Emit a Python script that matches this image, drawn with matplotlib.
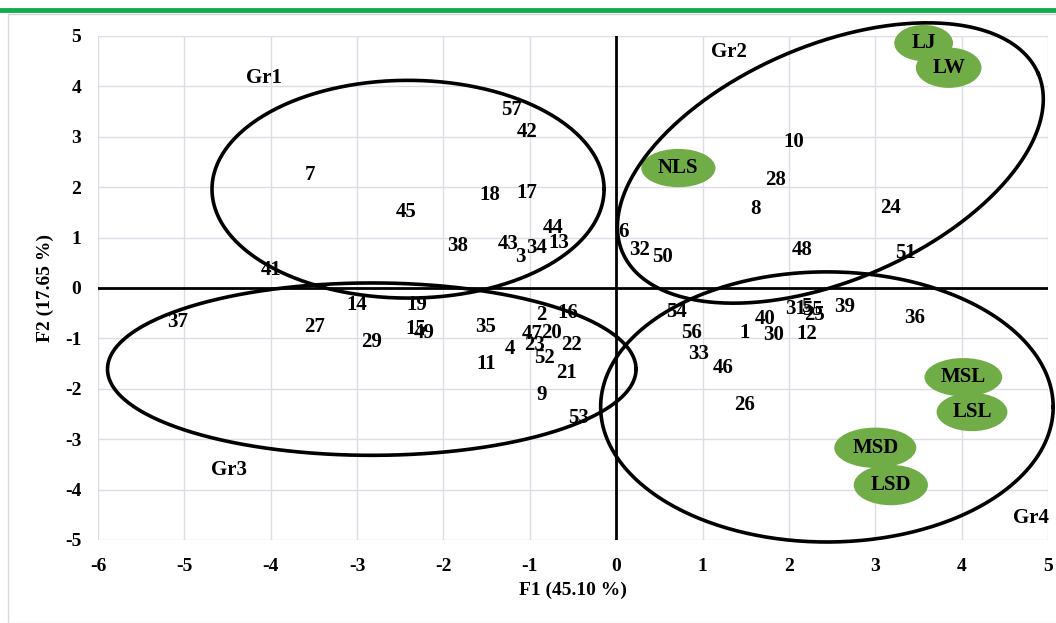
import numpy as np
import matplotlib.pyplot as plt
from matplotlib.patches import Ellipse, Rectangle
from matplotlib.lines import Line2D

plt.rcParams['font.family'] = ['Liberation Serif', 'DejaVu Serif']
plt.rcParams['font.weight'] = 'bold'
plt.rcParams['axes.unicode_minus'] = False

# individus (labels des points) et coordonnées F1/F2
labels = ['57', '42', '7', '18', '17', '45', '44', '38', '43', '3', '34', '13',
          '41', '37', '14', '19', '15', '49', '27', '29', '35', '2', '16', '47',
          '20', '23', '4', '22', '52', '11', '21', '9', '53',
          '10', '28', '8', '24', '6', '32', '50', '48', '51',
          '54', '56', '1', '40', '30', '31', '5', '55', '25', '39', '36', '12',
          '33', '46', '26']
f1 = [-1.21, -1.03, -3.55, -1.46, -1.03, -2.43, -0.73, -1.84, -1.25, -1.11, -0.92, -0.67,
      -4.00, -5.08, -3.00, -2.31, -2.32, -2.22, -3.49, -2.83, -1.51, -0.87, -0.56, -0.97,
      -0.75, -0.95, -1.23, -0.52, -0.83, -1.51, -0.57, -0.86, -0.44,
      2.06, 1.84, 1.61, 3.18, 0.08, 0.27, 0.54, 2.15, 3.35,
      0.70, 0.87, 1.49, 1.72, 1.82, 2.08, 2.20, 2.27, 2.30, 2.64, 3.46, 2.21,
      0.95, 1.24, 1.49]
f2 = [3.53, 3.10, 2.24, 1.85, 1.88, 1.51, 1.19, 0.83, 0.87, 0.62, 0.79, 0.89,
      0.36, -0.67, -0.34, -0.34, -0.81, -0.89, -0.77, -1.07, -0.77, -0.54, -0.50, -0.91,
      -0.89, -1.13, -1.21, -1.13, -1.39, -1.51, -1.69, -2.12, -2.58,
      2.90, 2.14, 1.57, 1.59, 1.11, 0.75, 0.62, 0.75, 0.69,
      -0.48, -0.89, -0.89, -0.62, -0.93, -0.42, -0.38, -0.44, -0.54, -0.38, -0.60, -0.91,
      -1.31, -1.59, -2.32]

# variables (ellipses vertes)
var_names = ['LJ', 'LW', 'NLS', 'MSL', 'LSL', 'MSD', 'LSD']
var_x = [3.56, 3.85, 0.72, 4.02, 4.12, 3.00, 3.18]
var_y = [4.86, 4.37, 2.38, -1.77, -2.46, -3.17, -3.91]
var_w = [0.68, 0.76, 0.86, 0.90, 0.82, 0.95, 0.86]
var_h = [0.72, 0.80, 0.76, 0.76, 0.76, 0.80, 0.80]

# groupes
grp_names = ['Gr1', 'Gr2', 'Gr3', 'Gr4']
grp_lab_x = [-4.08, 1.31, -4.48, 4.80]
grp_lab_y = [4.17, 4.68, -3.61, -4.56]
grp_cx = [-2.41, 2.48, -2.83, 2.44]
grp_cy = [1.96, 2.48, -1.61, -2.36]
grp_a = [2.27, 2.62, 3.06, 2.62]   # demi-axe (unités F1)
grp_b = [2.16, 1.36, 1.71, 2.68]
grp_ang = [0.0, 23.3, 0.0, 0.0]
grp_rot = [False, True, False, False]

xticks = list(range(-6, 6))
yticks = list(range(-5, 6))

fig = plt.figure(figsize=(10.56, 6.23), dpi=100)
# cadre + ligne verte du haut
fig.add_artist(Rectangle((8/1056, 0), 1.0, 1 - 14/623, transform=fig.transFigure,
                         fill=False, edgecolor='#d9d9d9', lw=1))
fig.add_artist(Line2D([0, 1], [1 - 10/623, 1 - 10/623], transform=fig.transFigure,
                      color='#12ad4b', lw=3.5))

ax = fig.add_axes([98/1056, 1 - 540/623, 950/1056, 504/623])
ax.set_xlim(-6, 5)
ax.set_ylim(-5, 5)
ax.set_xticks(xticks)
ax.set_yticks(yticks)
ax.grid(True, color='#dcdce6', lw=1)
ax.set_axisbelow(True)
for s in ax.spines.values():
    s.set_visible(False)
ax.tick_params(length=0, labelsize=14, pad=13)
for t in ax.get_xticklabels() + ax.get_yticklabels():
    t.set_fontweight('bold')
ax.tick_params(axis='y', pad=12)
ax.set_xlabel('F1 (45.10 %)', fontsize=14, fontweight='bold', labelpad=5)
ax.set_ylabel('F2 (17.65 %)', fontsize=14, fontweight='bold', labelpad=8)

ax.axhline(0, color='black', lw=2, zorder=2)
ax.axvline(0, color='black', lw=2, zorder=2)

# rapport px/unité entre axes x et y
ratio = (950 / 11) / (504 / 10)

t = np.linspace(0, 2 * np.pi, 400)
for cx, cy, a, b, ang, rot in zip(grp_cx, grp_cy, grp_a, grp_b, grp_ang, grp_rot):
    th = np.radians(ang)
    if rot:
        u = a * np.cos(t) * np.cos(th) - b * np.sin(t) * np.sin(th)
        v = a * np.cos(t) * np.sin(th) + b * np.sin(t) * np.cos(th)
        ax.plot(cx + u, cy + v * ratio, color='black', lw=2.6, clip_on=False, zorder=4)
    else:
        ax.plot(cx + a * np.cos(t), cy + b * np.sin(t), color='black', lw=2.6,
                clip_on=False, zorder=4)

for n, x, y in zip(grp_names, grp_lab_x, grp_lab_y):
    ax.text(x, y, n, fontsize=15, fontweight='bold', ha='center', va='center', zorder=5)

for n, x, y, w, h in zip(var_names, var_x, var_y, var_w, var_h):
    ax.add_patch(Ellipse((x, y), w, h, facecolor='#70ad47', edgecolor='none',
                         zorder=3, clip_on=False))
for n, x, y in zip(var_names, var_x, var_y):
    ax.text(x, y, n, fontsize=15, fontweight='bold', ha='center', va='center', zorder=5)

for n, x, y in zip(labels, f1, f2):
    ax.text(x, y, n, fontsize=15, fontweight='bold', ha='center', va='center', zorder=5)

fig.savefig('out.png', dpi=100)
